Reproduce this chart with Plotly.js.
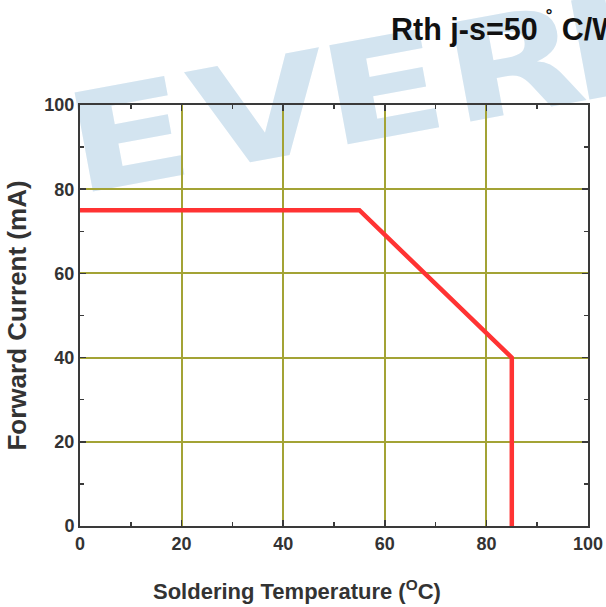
<!DOCTYPE html>
<html><head><meta charset="utf-8">
<script src="https://cdn.plot.ly/plotly-3.0.1.min.js"></script>
<style>html,body{margin:0;padding:0;background:#fff}#c{width:606px;height:607px}</style>
</head><body><div id="c"></div>
<script>
const temperature = [0, 55, 85, 85];
const current = [75, 75, 40, 0];
const xTicks = [0, 20, 40, 60, 80, 100];
const yTicks = [0, 20, 40, 60, 80, 100];
const watermarkLetters = ['E', 'V', 'E', 'R', 'L'];

const axisCommon = {
  showline: true, linecolor: '#3a3a3a', linewidth: 2, mirror: 'allticks',
  ticks: 'inside', ticklen: 6, tickcolor: '#3a3a3a', tickwidth: 1.5,
  showgrid: true, gridcolor: '#a3a335', gridwidth: 2,
  zeroline: false,
  tickfont: {family: 'Liberation Sans, Arial', size: 18, color: '#333', weight: 'bold'},
  minor: {ticks: 'inside', ticklen: 4, tickcolor: '#3a3a3a', showgrid: false, dtick: 10}
};

// watermark drawn as an SVG image in figure pixel coords
const W = 606, H = 607, L = 80, R = 18, T = 105, B = 81;
const pw = W - L - R, ph = H - T - B;
const offs = [0, 127, 259, 384, 505];
let letters = '';
watermarkLetters.forEach((ch, i) => {
  letters += '<g transform="translate(' + offs[i] + ' 0) scale(1.3 1)"><text x="-9" y="100" font-family="DejaVu Sans" font-weight="bold" font-size="138" fill="#d3e4f0">' + ch + '</text></g>';
});
const wmSvg = '<svg xmlns="http://www.w3.org/2000/svg" width="' + W + '" height="' + H + '">' +
  '<g transform="translate(70 94) rotate(-10.5)">' + letters + '</g></svg>';

const layout = {
  width: W, height: H,
  margin: {l: L, r: R, t: T, b: B},
  paper_bgcolor: '#fff', plot_bgcolor: 'rgba(0,0,0,0)',
  showlegend: false,
  xaxis: Object.assign({}, axisCommon, {
    range: [0, 100], tickvals: xTicks, ticktext: xTicks.map(String)
  }),
  yaxis: Object.assign({}, axisCommon, {
    range: [0, 100], tickvals: yTicks, ticktext: yTicks.map(String),
    title: {text: 'Forward Current (mA)', standoff: 10,
      font: {family: 'Liberation Sans, Arial', size: 26, color: '#333', weight: 'bold'}}
  }),
  annotations: [
    {xref: 'paper', yref: 'paper', x: (389 - L) / pw, y: 1 + (T - 27) / ph,
     xanchor: 'left', yanchor: 'middle', showarrow: false,
     text: 'Rth j-s=50 <sup>˚</sup> C/W',
     font: {family: 'Liberation Sans, Arial', size: 30.5, color: '#111', weight: 'bold'}},
    {xref: 'paper', yref: 'paper', x: (297 - L) / pw, y: -(590 - (H - B)) / ph,
     xanchor: 'center', yanchor: 'middle', showarrow: false,
     text: 'Soldering Temperature (<sup>O</sup>C)',
     font: {family: 'Liberation Sans, Arial', size: 22, color: '#333', weight: 'bold'}}
  ],
  images: [{
    source: 'data:image/svg+xml;utf8,' + encodeURIComponent(wmSvg),
    xref: 'paper', yref: 'paper', x: -L / pw, y: 1 + T / ph, sizex: W / pw, sizey: H / ph,
    xanchor: 'left', yanchor: 'top', sizing: 'stretch', layer: 'below'
  }]
};

Plotly.newPlot('c', [{
  x: temperature, y: current, type: 'scatter', mode: 'lines',
  line: {color: '#ff3333', width: 4.5}, cliponaxis: false
}], layout, {staticPlot: true});
</script></body></html>
